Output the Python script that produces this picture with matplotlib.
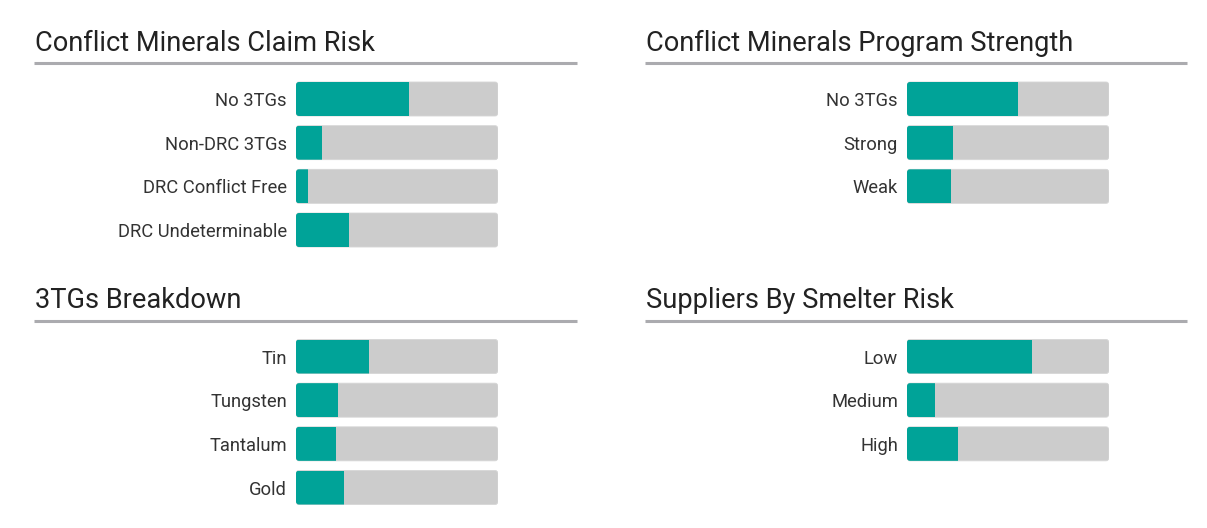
import numpy as np
import matplotlib.pyplot as plt
from matplotlib.patches import FancyBboxPatch
from matplotlib.lines import Line2D

plt.rcParams['font.family'] = ['Roboto', 'DejaVu Sans']

claim_labels = ["No 3TGs", "Non-DRC 3TGs", "DRC Conflict Free", "DRC Undeterminable"]
claim_values = [0.56, 0.13, 0.06, 0.26]

program_labels = ["No 3TGs", "Strong", "Weak"]
program_values = [0.55, 0.23, 0.22]

tg_labels = ["Tin", "Tungsten", "Tantalum", "Gold"]
tg_values = [0.36, 0.21, 0.20, 0.24]

smelter_labels = ["Low", "Medium", "High"]
smelter_values = [0.62, 0.14, 0.25]

TEAL = "#00a398"
TRACK = "#cccccc"
RULE = "#ababaf"

W, H = 1207, 528
fig = plt.figure(figsize=(W / 100, H / 100), dpi=100)

PITCH = 43.67   # px between rows
BAR_H = 34.0    # px bar height
BAR_W = 202.0   # px track width


def panel(title, labels, values, head_x0, head_x1, bar_x0, baseline):
    # heading + rule
    fig.text((head_x0 + 1) / W, 1 - baseline / H, title, fontsize=19.6,
             color="#222222", va="baseline", ha="left")
    rule_y = 1 - (baseline + 12) / H
    fig.add_artist(Line2D([head_x0 / W, head_x1 / W], [rule_y, rule_y],
                          color=RULE, lw=2.2, solid_capstyle="butt",
                          transform=fig.transFigure))

    n = len(labels)
    top = baseline + 12 + 19 + BAR_H / 2 - PITCH / 2
    ax = fig.add_axes([bar_x0 / W, 1 - (top + n * PITCH) / H,
                       BAR_W / W, n * PITCH / H])
    bh = BAR_H / PITCH
    tracks = ax.barh(labels, [1.0] * n, height=bh, color="none")
    rounded = []
    for r in tracks:
        p = FancyBboxPatch((r.get_x(), r.get_y()), r.get_width(), r.get_height(),
                           boxstyle="round,pad=0,rounding_size=%f" % (3 / BAR_W),
                           mutation_aspect=BAR_W / PITCH,
                           fc=TRACK, ec="#d6d6d6", lw=0.6)
        ax.add_patch(p)
        rounded.append(p)
        r.remove()
    fills = ax.barh(labels, values, height=bh, color=TEAL, zorder=3)
    for f, p in zip(fills, rounded):
        f.set_clip_path(p)

    ax.set_xlim(0, 1)
    ax.set_ylim(n - 0.5, -0.5)
    ax.set_xticks([])
    ax.tick_params(axis="y", length=0, pad=6.5, labelsize=13.2, labelcolor="#333333")
    for s in ax.spines.values():
        s.set_visible(False)
    return ax


panel("Conflict Minerals Claim Risk", claim_labels, claim_values, 34, 577, 296, 51)
panel("Conflict Minerals Program Strength", program_labels, program_values, 645, 1187, 907, 51)
panel("3TGs Breakdown", tg_labels, tg_values, 34, 577, 296, 308.5)
panel("Suppliers By Smelter Risk", smelter_labels, smelter_values, 645, 1187, 907, 308.5)

fig.savefig("out.png", dpi=100, facecolor="white")
